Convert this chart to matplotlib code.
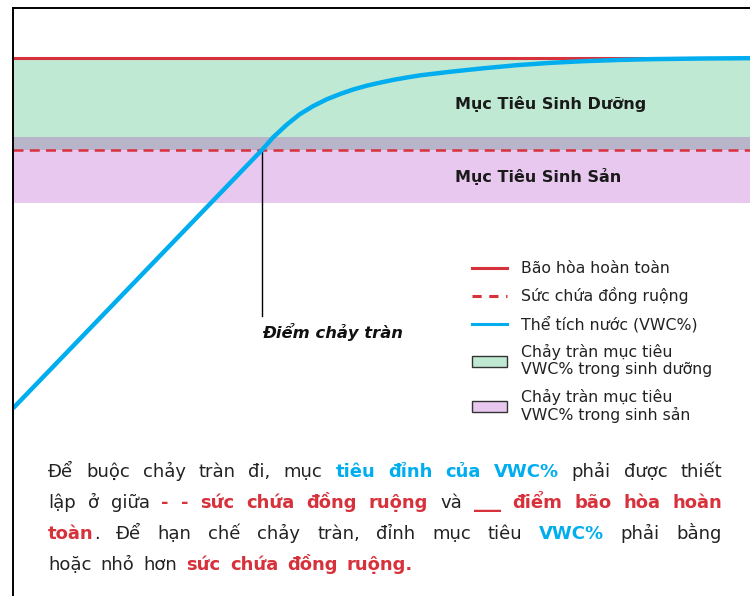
import matplotlib.pyplot as plt
from matplotlib.lines import Line2D
from matplotlib.patches import Patch

# curve (x: time 0..100, y: VWC %)
vwc_x = [0, 33.8, 35.3, 37.2, 38.9, 40.7, 42.6, 44.4, 46.1, 48.0, 49.8, 51.6,
         53.5, 55.2, 59.3, 63.8, 68.4, 72.9, 77.3, 82.0, 86.4, 93.2, 100]
vwc_y = [20.4, 48.5, 49.86, 51.27, 52.36, 53.24, 54.0, 54.57, 55.04, 55.47, 55.8, 56.1,
         56.37, 56.59, 56.98, 57.36, 57.7, 57.95, 58.13, 58.26, 58.35, 58.42, 58.46]

saturation = 58.5
field_capacity = 48.5
veg_band = (48.5, 58.5)
gen_band = (42.7, 49.9)
overflow_x = 33.8

band_labels = ['Mục Tiêu Sinh Dưỡng', 'Mục Tiêu Sinh Sản']
legend_labels = ['Bão hòa hoàn toàn', 'Sức chứa đồng ruộng', 'Thể tích nước (VWC%)',
                 'Chảy tràn mục tiêu\nVWC% trong sinh dưỡng',
                 'Chảy tràn mục tiêu\nVWC% trong sinh sản']

RED = '#d7313c'
BLUE = '#00aeef'
GREEN = '#c0e9d4'
PURPLE = '#e8c8ef'
GRAY = '#b8b5cb'
INK = '#222222'

W, H = 750, 596
fig = plt.figure(figsize=(7.5, 5.96), dpi=100)
ax = fig.add_axes([13 / W, 0, 737 / W, 588 / H])
ax.set_xlim(0, 100)
ax.set_ylim(0, 588 / 9.2)
for s in ['right', 'bottom']:
    ax.spines[s].set_visible(False)
for s in ['left', 'top']:
    ax.spines[s].set_linewidth(1.4)
ax.set_xticks([])
ax.set_yticks([])

ax.axhspan(veg_band[0], veg_band[1], color=GREEN, lw=0)
ax.axhspan(gen_band[0], gen_band[1], color=PURPLE, lw=0)
ov = (max(veg_band[0], gen_band[0]), min(veg_band[1], gen_band[1]))
ax.axhspan(ov[0], ov[1], color=GRAY, lw=0)

ax.axhline(saturation, color=RED, lw=2.2)
ax.axhline(field_capacity, color=RED, lw=1.8, dashes=(4, 2.5))
ax.plot([overflow_x, overflow_x], [field_capacity, 30.4], color='black', lw=1)
ax.plot(vwc_x, vwc_y, color=BLUE, lw=3.2, solid_capstyle='butt',
        solid_joinstyle='round')

ax.text(60, sum(veg_band) / 2, band_labels[0], fontsize=11.5, fontweight='bold',
        color='#1a1a1a', va='center', ha='left')
ax.text(60, (gen_band[0] + field_capacity) / 2, band_labels[1], fontsize=11.5,
        fontweight='bold', color='#1a1a1a', va='center', ha='left')
ax.text(overflow_x, 28.7, 'Điểm chảy tràn', fontsize=11.8, fontweight='bold',
        fontstyle='italic', color='#111111', va='center', ha='left')

handles = [Line2D([], [], color=RED, lw=2.2),
           Line2D([], [], color=RED, lw=2.2, dashes=(3, 2.5)),
           Line2D([], [], color=BLUE, lw=2.2),
           Patch(facecolor=GREEN, edgecolor='#333333', lw=1),
           Patch(facecolor=PURPLE, edgecolor='#333333', lw=1)]
fig.legend(handles, legend_labels, loc='upper left', frameon=False,
           bbox_to_anchor=(472 / W, 1 - 261 / H), fontsize=11.3,
           handlelength=2.2, handletextpad=0.9, labelspacing=0.73,
           borderpad=0, borderaxespad=0, labelcolor=INK)

# paragraph with mixed colours, justified
para = [
    [('Để buộc chảy tràn đi, mục ', 'n'), ('tiêu đỉnh của VWC%', 'b'), (' phải được thiết', 'n')],
    [('lập ở giữa ', 'n'), ('- - sức chứa đồng ruộng', 'r'), (' và ', 'n'),
     ('___ điểm bão hòa hoàn', 'r')],
    [('toàn', 'r'), ('. Để hạn chế chảy tràn, đỉnh mục tiêu ', 'n'), ('VWC%', 'b'),
     (' phải bằng', 'n')],
    [('hoặc nhỏ hơn ', 'n'), ('sức chứa đồng ruộng.', 'r')],
]
styles = {'n': dict(color=INK, fontweight='normal'),
          'b': dict(color=BLUE, fontweight='bold'),
          'r': dict(color=RED, fontweight='bold')}
x0, x1 = 48, 722
base0, step = 477, 31
fs = 13

renderer = fig.canvas.get_renderer()


def words_of(segs):
    words = [[]]
    for txt, st in segs:
        parts = txt.split(' ')
        for i, p in enumerate(parts):
            if i > 0:
                words.append([])
            if p:
                words[-1].append((p, st))
    return [w for w in words if w]


def width(txt, st):
    t = fig.text(0, 0, txt, fontsize=fs, **styles[st])
    w = t.get_window_extent(renderer).width
    t.remove()
    return w


space_w = width('a a', 'n') - 2 * width('a', 'n')
for li, segs in enumerate(para):
    words = words_of(segs)
    wws = [[width(p, st) for p, st in w] for w in words]
    total = sum(sum(w) for w in wws)
    if li < len(para) - 1:
        gap = (x1 - x0 - total) / (len(words) - 1)
    else:
        gap = space_w * 1.6
    x = x0
    yb = 1 - (base0 + li * step) / H
    for w, ww in zip(words, wws):
        for (p, st), pw in zip(w, ww):
            fig.text(x / W, yb, p, fontsize=fs, va='baseline', ha='left', **styles[st])
            x += pw
        x += gap

fig.savefig('out.png', dpi=100)
